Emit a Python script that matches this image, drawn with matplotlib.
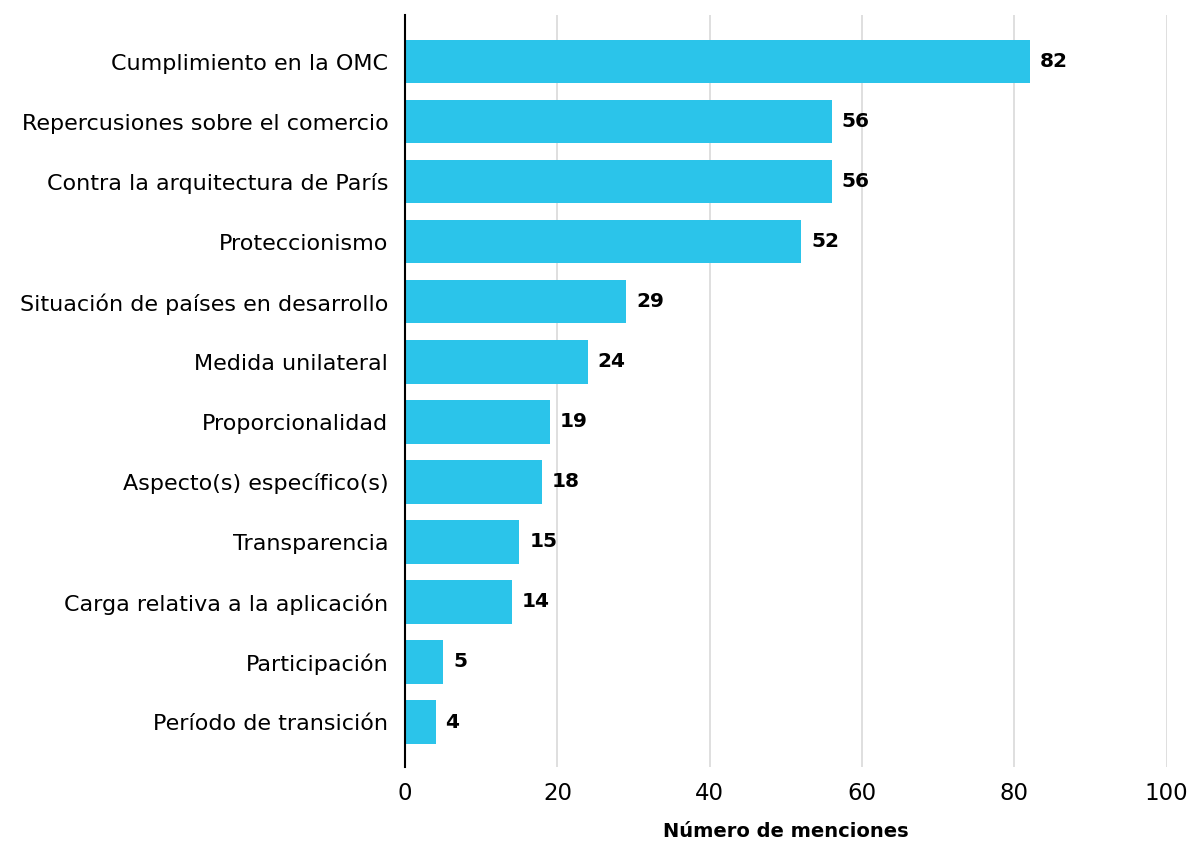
import matplotlib
matplotlib.use("Agg")
import matplotlib.pyplot as plt

plt.rcParams['font.family'] = ['DejaVu Sans']

categorias = [
    "Cumplimiento en la OMC",
    "Repercusiones sobre el comercio",
    "Contra la arquitectura de París",
    "Proteccionismo",
    "Situación de países en desarrollo",
    "Medida unilateral",
    "Proporcionalidad",
    "Aspecto(s) específico(s)",
    "Transparencia",
    "Carga relativa a la aplicación",
    "Participación",
    "Período de transición",
]
menciones = [82, 56, 56, 52, 29, 24, 19, 18, 15, 14, 5, 4]
ticks_x = [0, 20, 40, 60, 80, 100]

azul = '#2bc4ea'

fig = plt.figure(figsize=(11.92, 8.42), dpi=100)
ax = fig.add_axes([0.3398, 0.0894, 0.639, 0.8928])

pos = list(range(len(categorias)))
ax.barh(pos, menciones, height=0.72, color=azul, zorder=2)

for p, v in zip(pos, menciones):
    ax.annotate(str(v), xy=(v, p), xytext=(10, 0), textcoords='offset pixels',
                va='center', ha='left', fontsize=14.5, fontweight='bold',
                color='black', zorder=4)

ax.set_xlim(0, 100)
ax.set_ylim(11.745, -0.78)
ax.set_yticks(pos)
ax.set_yticklabels(categorias, fontsize=16)
ax.set_xticks(ticks_x)
ax.set_xticklabels([str(t) for t in ticks_x], fontsize=16.5)
ax.tick_params(axis='y', length=0, pad=12)
ax.tick_params(axis='x', length=0, pad=11)

ax.grid(axis='x', color='#d9d9d9', linewidth=1.2, zorder=0)
ax.set_axisbelow(True)
for s in ['top', 'right', 'bottom']:
    ax.spines[s].set_visible(False)
ax.spines['left'].set_color('black')
ax.spines['left'].set_linewidth(1.5)
ax.spines['left'].set_zorder(3)

ax.set_xlabel("Número de menciones", fontsize=14, fontweight='bold', labelpad=12)

fig.savefig("out.png", dpi=100)
